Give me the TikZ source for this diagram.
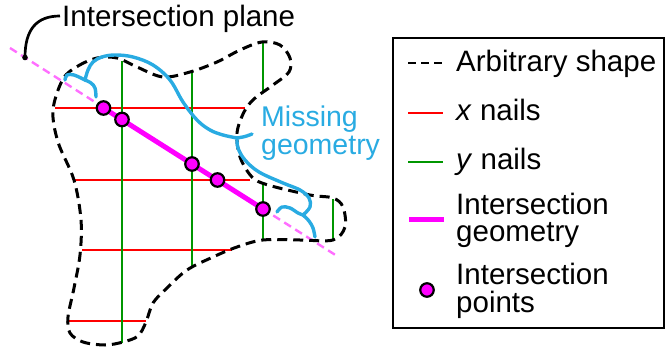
\documentclass[tikz,border=0pt]{standalone}
\usepackage{fontspec}
\setmainfont{Liberation Sans}
\definecolor{nailred}{RGB}{255,0,0}
\definecolor{nailgreen}{RGB}{0,150,0}
\definecolor{geomag}{RGB}{255,0,255}
\definecolor{planemag}{RGB}{255,110,255}
\definecolor{missblue}{RGB}{41,171,226}
\tikzset{
 shapeline/.style={line width=3pt, dash pattern=on 10pt off 6pt},
 xnail/.style={nailred, line width=2.4pt},
 ynail/.style={nailgreen, line width=2.4pt},
 planeline/.style={planemag, line width=2.4pt, dash pattern=on 8pt off 5pt},
 geomline/.style={geomag, line width=5pt},
 misscurve/.style={missblue, line width=3.4pt, line cap=round, line join=round},
 ipt/.style={circle, draw=black, fill=geomag, line width=2.2pt, minimum size=13.5pt, inner sep=0pt},
 lbl/.style={anchor=base west, inner sep=0pt, font=\fontsize{29.5}{30}\selectfont},
}
\begin{document}
\begin{tikzpicture}[x=1pt,y=-1pt]
\useasboundingbox (0,0) rectangle (666,350);

% intersection plane (dashed)
\coordinate (pa) at (10,48);
\coordinate (pb) at (337,256);
\draw[planeline] (pa) -- (pb);

% x nails
\draw[xnail] (55,108) -- (245,108);
\draw[xnail] (73,180) -- (250,180);
\draw[xnail] (82,250) -- (232,250);
\draw[xnail] (68,321) -- (146,321);
% y nails
\draw[ynail] (122,61) -- (122,343);
\draw[ynail] (192,72) -- (192,267);
\draw[ynail] (263,42) -- (263,91);
\draw[ynail] (263,184) -- (263,240);
\draw[ynail] (333,199) -- (333,240);

% arbitrary shape
\draw[shapeline] plot[smooth cycle, tension=0.55] coordinates {
 (63,79) (78,66) (97,58) (117,58) (137,67) (163,77) (190,72) (217,62)
 (240,50) (262,42) (280,45) (290,58) (289,72) (273,85) (254,99) (244,112)
 (237,133) (240,157) (252,177) (268,185) (310,195) (333,198) (343,207)
 (345,227) (333,240) (300,240) (263,240) (237,247) (213,257) (187,270)
 (167,288) (153,303) (146,322) (138,336) (123,342) (105,345) (83,342)
 (70,333) (68,317) (74,288) (80,255) (81,220) (74,180) (58,142) (53,110)};

% missing geometry curve with braces
\draw[misscurve] plot[smooth, tension=0.6] coordinates {(65,80) (67,75) (74,75) (85,80)};
\draw[misscurve] plot[smooth, tension=0.6] coordinates {(85,80) (91,83) (95,88) (96,97)};
\draw[misscurve] plot[smooth, tension=0.6] coordinates {(85,80) (88,70) (93,62) (102,57) (115,55) (133,57) (153,65) (170,80) (183,102) (197,120) (210,130) (223,135) (237,138)};
\draw[misscurve] plot[smooth, tension=0.6] coordinates {(237,138) (245,136.5) (252,134)};
\draw[misscurve] plot[smooth, tension=0.6] coordinates {(237,138) (238,148) (245,160) (259,172) (283,183) (300,190) (309,198) (310,207) (303,215)};
\draw[misscurve] plot[smooth, tension=0.6] coordinates {(277,212) (282,207) (290,208) (298,213) (303,215)};
\draw[misscurve] plot[smooth, tension=0.6] coordinates {(303,215) (309,221) (313,228) (315,237)};

% intersection geometry and points
\coordinate (c1) at (103.5,108);
\coordinate (c2) at (122,119.5);
\coordinate (c3) at (192,164);
\coordinate (c4) at (217.5,180);
\coordinate (c5) at (263,209);
\draw[geomline] (c1) -- (c5);
\node[ipt] (p1) at (c1) {};
\node[ipt] (p2) at (c2) {};
\node[ipt] (p3) at (c3) {};
\node[ipt] (p4) at (c4) {};
\node[ipt] (p5) at (c5) {};

% callout
\node[lbl] (iplane) at (62,27) {Intersection plane};
\coordinate (cs) at (60,16);
\fill (25,57.5) circle (2.8pt) coordinate (dot);
\draw[line width=2.7pt] (cs) .. controls (36,16) and (25,30) .. (dot);

% missing geometry label
\node[lbl, text=missblue, font=\fontsize{28.5}{29}\selectfont] (miss1) at (261,126.5) {Missing};
\node[lbl, text=missblue, font=\fontsize{28.5}{29}\selectfont] (miss2) at (261,154) {geometry};

% legend
\draw[line width=2.2pt] (393,38) rectangle (664,328);
\draw[line width=2.4pt, dash pattern=on 8pt off 5pt] (408,63) -- (445,63);
\node[lbl] (l1) at (456,72) {Arbitrary shape};
\draw[xnail] (408,113) -- (443,113);
\node[lbl] (l2) at (456,121) {\textit{x} nails};
\draw[ynail] (408,162) -- (443,162);
\node[lbl] (l3) at (456,169) {\textit{y} nails};
\draw[geomline, line width=5pt] (409,219) -- (444,219);
\node[lbl] (l4a) at (456,214) {Intersection};
\node[lbl] (l4b) at (456,241) {geometry};
\node[ipt] (lp) at (427,290) {};
\node[lbl] (l5a) at (456,284) {Intersection};
\node[lbl] (l5b) at (456,312) {points};
\end{tikzpicture}
\end{document}
